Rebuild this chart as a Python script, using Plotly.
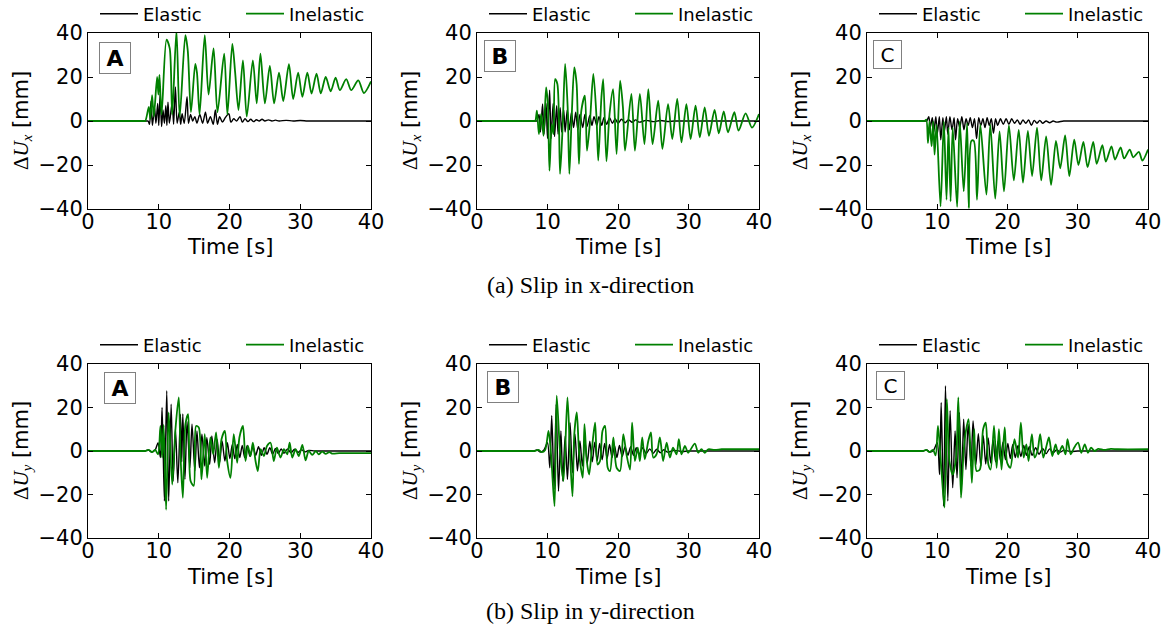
import plotly.graph_objects as go

W, H = 1167, 629

# ---------------- data: (time [s], slip [mm]) ----------------
ax_elastic = [(0, 0), (8.3, 0), (8.5, 0), (8.7, -1.5), (8.9, 9), (9.1, -2), (9.4, 6), (9.6, -1), (9.85, 8), (10.0, -2),
              (10.2, 12.4), (10.4, -2.5), (10.6, 5), (10.8, -1), (11.0, 7), (11.15, -2), (11.3, 8.6), (11.5, -1),
              (11.9, 8.6), (12.1, -1.5), (12.35, 15.5), (12.6, -1), (12.9, 4), (13.1, -1.5), (13.3, 3.3),
              (13.6, -1), (14.0, 11), (14.2, -1), (14.5, 3), (14.8, 0), (15.1, 2), (15.4, -1), (15.8, 3),
              (16.2, -1), (16.6, 4), (16.9, -1), (17.3, 2), (17.7, -1.5), (18.0, 5), (18.3, -1.5), (18.6, 2),
              (19.0, -0.5), (19.4, 1.5), (19.9, 3.3), (20.2, -0.5), (20.6, 1), (21.0, 0), (21.5, 2), (21.8, -0.5),
              (22.2, 1), (22.6, -0.3), (23.0, 0.8), (23.4, -0.3), (23.8, 0.6), (24.2, 0), (24.6, 0.8), (25.0, 0),
              (25.5, 0.5), (26.0, 0), (26.5, 0.4), (27.0, 0), (28.0, 0.3), (29.0, 0), (30.0, 0.2), (31.0, 0),
              (32.0, 0), (40.0, 0)]
ax_inelastic = [(0, 0), (7.9, 0), (8.1, 0), (8.6, 6.4), (8.8, 1), (9.06, 11.7), (9.3, 2), (9.77, 20), (9.95, 12),
                (10.1, 21), (10.4, 3), (11.1, 37), (11.55, 33), (11.9, 3), (12.5, 41), (12.96, 2), (13.76, 39),
                (14.1, 32), (14.55, 4), (15.16, 26), (15.4, 22), (15.77, 3), (16.5, 39), (17.04, 12), (17.75, 33),
                (18.3, 4), (19.25, 30.6), (19.7, 3), (20.4, 35), (20.8, 22), (21.27, 5), (21.9, 27.6), (22.44, 2),
                (23.3, 27.6), (23.85, 8), (24.37, 30.6), (25.0, 8), (25.7, 25), (26.3, 8), (27.0, 22), (27.6, 9),
                (28.4, 25.8), (29.0, 10), (29.7, 22), (30.3, 11), (31.0, 22), (31.6, 12.5), (32.3, 21.5),
                (32.9, 12.6), (33.6, 20), (34.3, 13.5), (35.0, 19.7), (35.6, 14), (36.5, 19), (37.2, 14),
                (38.2, 18.5), (39.0, 12.7), (40.0, 18)]

bx_elastic = [(0, 0), (8.3, 0), (8.5, 0), (8.8, 3), (9.0, -5), (9.3, 7.7), (9.5, -6), (9.8, 8), (10.0, -8), (10.3, 14),
              (10.5, -8), (10.8, 8), (11.0, -7), (11.3, 7), (11.5, -6), (11.8, 6), (12.0, -5), (12.3, 5), (12.5, -5),
              (12.8, 5), (13.1, -4), (13.4, 4), (13.7, -3), (14.0, 4), (14.3, -4), (14.6, 3), (15.0, -3), (15.3, 3),
              (15.6, -2.5), (16.0, 2.5), (16.3, -2), (16.6, 2), (17.0, -2), (17.3, 2), (17.7, -2), (18.0, 1.5),
              (18.4, -1.5), (18.8, 1.5), (19.2, -1), (19.6, 1), (20.0, -1), (20.5, 0.8), (21.0, -0.8), (21.5, 0.6),
              (22.0, -0.6), (22.5, 0.5), (23.0, -0.5), (24.0, 0.3), (25.0, -0.3), (26.0, 0.2), (27.0, -0.2),
              (28.0, 0), (29.0, 0), (40.0, 0)]
bx_inelastic = [(0, 0), (8.06, 0), (8.26, 0), (8.5, 4.7), (8.78, -6), (9.1, 3.2), (9.44, -6.7), (9.8, 15.3),
                (10.05, 7.7), (10.28, -22.6), (10.6, -1.4), (10.85, -6), (11.08, 19), (11.4, 16.8), (11.78, -24),
                (12.16, -1.4), (12.5, 26), (12.86, 6.2), (13.1, -24), (13.43, 1.7), (13.8, 24.4), (14.13, 16.8),
                (14.46, -19.5), (14.8, 4.7), (15.3, 11.5), (15.6, -13.5), (16.0, -1.4), (16.5, 21.4), (16.95, 1.7),
                (17.2, -18), (17.65, 10.8), (17.9, 19), (18.36, -18.3), (18.8, 3.2), (19.3, 14.5), (19.8, -15),
                (20.3, 18.3), (20.7, 6.2), (21.0, -13.5), (21.9, 12.3), (22.4, -13.5), (23.1, 12.3), (23.75, -10.5),
                (24.3, 14.5), (24.9, -10.5), (25.7, 9.2), (26.3, -12.7), (27.1, 7.7), (27.7, -8.2), (28.4, 10),
                (29.0, -9.7), (29.7, 7.7), (30.3, -8.2), (31.0, 7), (31.6, -7.4), (32.3, 6.2), (32.9, -6.7),
                (33.7, 5), (34.3, -5.6), (35.0, 4.4), (35.6, -5.2), (36.5, 4), (37.1, -4.4), (38.1, 3.5),
                (39.0, -3), (40.0, 3.2)]

cx_elastic = [(0, 0), (8.3, 0), (8.5, 0), (8.8, 2), (9.0, -3), (9.3, 1.5), (9.5, -5), (9.8, 2), (10.0, -6), (10.3, 2),
              (10.5, -8.5), (10.8, 1.5), (11.0, -5), (11.3, 2), (11.5, -6), (11.8, 2), (12.1, -4), (12.4, 1.5),
              (12.6, -8.5), (12.9, 1), (13.2, -3), (13.5, 2), (13.8, -4), (14.1, 1), (14.4, -2), (14.7, 1.5),
              (15.0, -3), (15.3, 1), (15.6, -8), (15.9, 1.5), (16.2, -2), (16.5, 1), (16.8, -3), (17.1, 1.5),
              (17.4, -2), (17.7, 1), (18.0, -5.5), (18.3, 1), (18.6, -2), (19.0, 1), (19.4, -1.5), (19.8, 1),
              (20.2, -1.5), (20.6, 1), (21.0, -1), (21.4, 0.5), (21.8, -1.5), (22.2, 0.5), (22.6, -1), (23.0, 0.5),
              (23.4, -2), (23.8, 0.3), (24.2, -1), (24.6, 0.3), (25.0, -1), (25.5, 0), (26.0, -0.8), (26.5, 0),
              (27.0, -0.5), (28.0, 0), (29.0, 0), (40.0, 0)]
cx_inelastic = [(0, 0), (8.0, 0), (8.2, 0), (8.44, 0.6), (8.68, -10), (8.9, -0.2), (9.2, -11.5), (9.43, -0.2),
                (9.62, -15.3), (9.9, -1.7), (10.47, -38.8), (10.94, -0.2), (11.32, -35.8), (11.6, -3), (11.9, -36.5),
                (12.2, -3), (12.83, -39), (13.2, -0.2), (13.77, -32), (14.25, -1), (14.48, -39.5), (14.86, -9),
                (15.2, -9), (15.66, -35.8), (16.13, -1.7), (17.0, -33.5), (17.55, -1.7), (18.25, -35.3),
                (18.87, -4.7), (19.5, -32), (20.2, -2), (20.9, -27), (21.6, -4), (22.2, -28), (22.9, -4.5),
                (23.5, -25), (24.2, -3), (24.8, -27), (25.5, -7), (26.2, -29), (26.9, -9), (27.5, -21.5),
                (28.2, -6.5), (28.8, -25), (29.5, -8.5), (30.1, -20), (30.8, -9.5), (31.4, -21), (32.2, -9.5),
                (32.7, -19.5), (33.5, -11), (34.0, -18.5), (34.8, -11.5), (35.3, -17.5), (36.1, -12), (36.6, -17),
                (37.4, -13), (37.9, -16.5), (38.7, -14), (39.2, -18), (40.0, -13)]

ay_elastic = [(0, 0), (7.8, 0), (8.0, 0), (8.5, 0.5), (9.0, -0.5), (9.5, 0.5), (9.9, 3.8), (10.24, -3), (10.47, 20),
              (10.8, -23), (11.13, 27.7), (11.4, -23), (11.75, 21.5), (12.03, -13.8), (12.36, 10), (12.7, -14.6),
              (13.07, 16.9), (13.25, -5), (13.4, 17), (13.7, -13), (14.0, 13.5), (14.4, -7.7), (14.7, 12.3),
              (15.1, -9.2), (15.4, 9.2), (15.75, -7.7), (16.1, 7.7), (16.5, -6.9), (16.8, 6.2), (17.2, -6.2),
              (17.5, 6.9), (17.9, -5.4), (18.25, 5.4), (18.6, -5.4), (18.95, 4.6), (19.35, -4.6), (19.7, 3.8),
              (20.05, -3.5), (20.4, 3), (20.75, -3.5), (21.1, 3), (21.45, -3), (21.8, 2.5), (22.15, -3),
              (22.5, 2.5), (22.9, -2.5), (23.3, 2), (23.7, -2), (24.1, 2), (24.5, -2), (24.9, 1.5), (25.3, -1.5),
              (25.7, 1.5), (26.1, -1.5), (26.5, 1.2), (26.9, -1.2), (27.3, 1), (27.7, -1), (28.2, 1), (28.7, -0.8),
              (29.2, 0.8), (29.7, -0.6), (30.2, 0.5), (30.7, -0.4), (31.2, 0.3), (32.0, 0), (33.0, 0), (40.0, 0)]
ay_inelastic = [(0, 0), (7.9, 0), (8.1, 0), (8.6, 0.5), (9.05, -0.5), (9.5, 0.5), (9.9, -1.5), (10.24, 11.5),
                (10.47, -3), (10.7, 12), (11.04, -27), (11.4, 17.7), (11.9, -15.4), (12.36, 10), (12.83, 24.6),
                (13.07, -1.5), (13.4, -21.5), (13.77, 12.3), (14.15, 17), (14.5, -13.8), (14.95, -16), (15.28, 11.5),
                (15.66, 10.8), (16.04, -13), (16.5, 7.7), (16.84, -12.3), (17.3, 6.2), (17.7, -1.5), (18.1, 8.5),
                (18.5, -7.7), (18.87, 5.4), (19.34, 9.2), (19.67, -4.6), (20.14, -12.3), (20.6, 7.7), (21.08, -5.4),
                (21.4, 6.2), (21.9, 11.5), (22.26, -4.6), (22.6, 2.3), (22.97, -2.3), (23.3, 3.8), (23.68, -4.6),
                (24.0, -9.2), (24.4, 0.8), (24.86, -2.3), (25.3, 2.3), (25.8, 3.8), (26.26, -4.6), (26.7, 1.5),
                (27.2, -3), (27.7, 0.8), (28.16, -1.5), (28.5, 3.8), (28.87, -3), (29.34, 0.8), (29.8, -2.3),
                (30.3, 2.8), (30.75, -4.3), (31.2, 0), (31.7, -1.8), (32.2, 0), (32.6, -1.5), (33.1, -0.3),
                (33.6, -1.3), (34.1, -0.5), (34.5, -1.2), (35.5, -1), (36.5, -1), (40.0, -1)]

by_elastic = [(0, 0), (7.8, 0), (8.0, 0), (8.5, 0.5), (9.0, -0.5), (9.5, 0.5), (10.0, 3.8), (10.33, -7.7),
              (10.6, 16.2), (10.94, -17.7), (11.23, 21.5), (11.56, -18.5), (11.9, 9.2), (12.17, -13.8), (12.5, 6.9),
              (12.83, -13), (13.2, 13), (13.54, -10), (13.9, 7.7), (14.25, -9.2), (14.6, 4.6), (14.95, -6.9),
              (15.3, 5), (15.65, -5.5), (16.0, 4.5), (16.35, -5), (16.7, 4), (17.05, -4.5), (17.4, 3.5),
              (17.75, -4), (18.1, 3.5), (18.45, -3.5), (18.8, 3), (19.15, -3), (19.5, 2.5), (19.85, -3),
              (20.2, 2.5), (20.6, -2.5), (21.0, 2), (21.4, -2), (21.8, 2), (22.2, -2), (22.6, 1.5), (23.0, -1.5),
              (23.5, 1.5), (24.0, -1.2), (24.5, 1), (25.0, -1), (25.5, 0.8), (26.0, -0.8), (26.5, 0.6),
              (27.0, -0.5), (28.0, 0.3), (29.0, -0.2), (30.0, 0), (31.0, 0), (40.0, 0)]
by_inelastic = [(0, 0), (8.05, 0), (8.25, 0), (8.7, 0.5), (9.2, -0.5), (9.67, 0.5), (10.14, 9.2), (10.5, -1.5),
                (11.0, -25.4), (11.3, 25.4), (11.8, -1.5), (12.26, -13.8), (12.83, 24.6), (13.2, -1.5),
                (13.54, -20.8), (13.8, 7.7), (14.15, 17.7), (14.5, -1.5), (15.0, -12.3), (15.24, 12.3),
                (15.57, -4.6), (15.9, -10.8), (16.27, 0), (16.75, 13), (17.1, -6.2), (17.45, -4.6), (17.8, 9.2),
                (18.16, 11.5), (18.54, -7.7), (18.87, -9.2), (19.34, 6.2), (19.8, -7.7), (20.28, -9.2),
                (20.75, 7.7), (21.2, -1.5), (21.7, -8.5), (22.0, 13), (22.4, -4.6), (22.8, 1.5), (23.1, -4.6),
                (23.44, 6.2), (23.8, -3.8), (24.3, 4.6), (24.67, 8.5), (25.0, -3), (25.47, -1.5), (25.94, 6.2),
                (26.4, -4.6), (26.9, 3.8), (27.36, -3), (27.8, 1.5), (28.3, -1.5), (28.63, 5.4), (29.0, -1.5),
                (29.5, 2.3), (29.95, -0.8), (30.9, 3.4), (31.37, -0.8), (31.84, 0.8), (32.3, -0.8), (32.8, 0.8),
                (33.7, 0.5), (34.7, 0.8), (35.7, 0.8), (40.0, 0.8)]

cy_elastic = [(0, 0), (7.8, 0), (8.0, 0), (8.5, 0.5), (9.0, -0.5), (9.5, 0.5), (10.0, 3.8), (10.33, -10.8),
              (10.56, 22.3), (10.9, -25.4), (11.17, 30), (11.5, -23), (11.83, 18.5), (12.2, -16.9), (12.54, 9.2),
              (12.82, -12.3), (13.15, 17.7), (13.47, -15.4), (13.76, 14.6), (14.08, -8.5), (14.4, 12.3),
              (14.8, -6.9), (15.1, 13.8), (15.5, -6.2), (15.85, 8), (16.2, -7), (16.55, 7), (16.9, -6), (17.25, 6),
              (17.6, -5.5), (17.95, 5), (18.3, -5), (18.65, 4.5), (19.0, -4.5), (19.35, 4), (19.7, -4),
              (20.05, 3.5), (20.4, -3.5), (20.75, 3), (21.1, -3), (21.5, 2.5), (21.9, -2.5), (22.3, 2.5),
              (22.7, -2), (23.1, 2), (23.5, -2), (24.0, 1.5), (24.5, -1.5), (25.0, 1.2), (25.5, -1.2), (26.0, 1),
              (26.5, -0.8), (27.0, 0.6), (27.5, -0.5), (28.0, 0.3), (29.0, -0.2), (30.0, 0), (31.0, 0), (40.0, 0)]
cy_inelastic = [(0, 0), (7.8, 0), (8.0, 0), (8.45, 0.5), (8.9, -0.5), (9.4, 0.5), (9.77, -2), (10.1, 11.5),
                (10.47, -3), (11.03, -26), (11.36, 23.8), (11.74, -4.6), (12.2, -10.8), (12.68, -3), (13.0, 24.6),
                (13.38, -21.5), (13.76, 0), (14.08, 9.2), (14.46, 14.6), (14.93, -14.6), (15.26, 10),
                (15.6, -9.2), (16.06, -8.5), (16.53, 10), (16.9, 13), (17.28, -6.2), (17.6, -8.5), (18.08, 11.5),
                (18.45, -7.7), (18.78, 10), (19.15, -8.5), (19.6, 10.8), (19.95, -5.4), (20.4, -7.7), (21.0, 5.4),
                (21.5, -3), (21.9, 13), (22.3, -3), (22.68, 3), (23.0, -4.6), (23.47, 7.7), (23.85, -3),
                (24.27, 0), (24.65, 7.7), (25.1, -3), (25.6, 3), (25.9, 6.2), (26.38, -2.3), (26.85, 3),
                (27.23, -1.5), (27.8, 2.3), (28.26, -1.5), (28.54, 5.4), (29.0, -1.5), (29.48, 1.5), (30.05, 3.8),
                (30.5, -0.8), (31.0, 3), (31.45, -0.8), (31.9, 1.5), (32.4, 0), (32.9, 1), (33.8, 0.5),
                (34.7, 1), (35.7, 0.8), (40.0, 0.8)]

panel_letters = ["A", "B", "C", "A", "B", "C"]
series = [(ax_elastic, ax_inelastic), (bx_elastic, bx_inelastic), (cx_elastic, cx_inelastic),
          (ay_elastic, ay_inelastic), (by_elastic, by_inelastic), (cy_elastic, cy_inelastic)]
series_names = ["Elastic", "Inelastic"]
x_ticks = [0, 10, 20, 30, 40]
y_ticks = [-40, -20, 0, 20, 40]
captions = ["(a) Slip in x-direction", "(b) Slip in y-direction"]

# ---------------- layout geometry (page pixels) ----------------
col_px = [(88, 371), (477, 759), (867, 1148)]
row_px = [(33, 209), (364, 538)]
xtitle_px = [247, 577]
caption_px = [285, 611]
label_box_px = [(114.5, 57.5), (500, 56), (887.5, 54.5), (120, 388), (502.5, 386.5), (890.5, 385)]

GREEN = "#008000"
TICKFONT = dict(family="DejaVu Sans", size=21, color="black")


def px_x(p):
    return p / W


def px_y(p):
    return 1 - p / H


fig = go.Figure()
annotations = []
layout = dict(width=W, height=H, margin=dict(l=0, r=0, t=0, b=0, autoexpand=False),
              paper_bgcolor="white", plot_bgcolor="white", showlegend=True)

for i in range(6):
    r, c = divmod(i, 3)
    n = i + 1
    xs = "" if n == 1 else str(n)
    leg = "legend" if n == 1 else f"legend{n}"
    el, inel = series[i]
    for data, name, color, lw in [(el, series_names[0], "black", 1.4),
                                  (inel, series_names[1], GREEN, 1.8)]:
        fig.add_trace(go.Scatter(
            x=[p[0] for p in data], y=[p[1] for p in data], mode="lines", name=name,
            line=dict(color=color, width=lw, shape="spline", smoothing=0.8), legend=leg,
            xaxis="x" + xs, yaxis="y" + xs, hoverinfo="skip"))
    x0, x1 = col_px[c]
    y0, y1 = row_px[r]
    axcommon = dict(showline=True, linecolor="black", linewidth=1, mirror="ticks", ticks="inside",
                    ticklen=5, tickcolor="black", showgrid=False, zeroline=False, tickfont=TICKFONT,
                    automargin=False, ticklabeloverflow="allow")
    layout["xaxis" + xs] = dict(domain=[px_x(x0), px_x(x1)], anchor="y" + xs, range=[0, 40],
                                tickvals=x_ticks, ticklabelstandoff=-6, **axcommon)
    layout["yaxis" + xs] = dict(domain=[px_y(y1), px_y(y0)], anchor="x" + xs, range=[-40, 40],
                                tickvals=y_ticks, ticklabelstandoff=0, **axcommon)
    layout[leg] = dict(orientation="h", x=px_x(x0 + 7), xanchor="left", y=px_y(y0 - 19), yanchor="middle",
                       font=dict(family="DejaVu Sans", size=18, color="black"), bgcolor="rgba(0,0,0,0)",
                       itemwidth=38, entrywidth=93, entrywidthmode="pixels", tracegroupgap=0)
    # axis titles
    comp = "x" if r == 0 else "y"
    annotations.append(dict(
        text=f'<span style="font-family:Liberation Serif">Δ<i>U</i><sub><i>{comp}</i></sub></span> [mm]',
        x=px_x(x0 - 66), y=px_y((y0 + y1) / 2), xref="paper", yref="paper", textangle=-90,
        showarrow=False, xanchor="center", yanchor="middle",
        font=dict(family="DejaVu Sans", size=21, color="black")))
    annotations.append(dict(
        text="Time [s]", x=px_x((x0 + x1) / 2), y=px_y(xtitle_px[r]), xref="paper", yref="paper",
        showarrow=False, xanchor="center", yanchor="middle",
        font=dict(family="DejaVu Sans", size=21, color="black")))
    # panel letter boxes
    bx, by = label_box_px[i]
    letter = panel_letters[i]
    bold = letter != "C"
    annotations.append(dict(
        text=f"<b>{letter}</b>" if bold else letter, x=px_x(bx), y=px_y(by), xref="paper", yref="paper",
        showarrow=False, xanchor="center", yanchor="middle",
        width=26 if bold else 23, height=26 if bold else 23, borderpad=2,
        bordercolor="#808080", borderwidth=1, bgcolor="white",
        font=dict(family="DejaVu Sans", size=22 if bold else 20, color="black")))

for k, cap in enumerate(captions):
    annotations.append(dict(
        text=cap, x=px_x(590), y=px_y(caption_px[k]), xref="paper", yref="paper",
        showarrow=False, xanchor="center", yanchor="middle",
        font=dict(family="Liberation Serif", size=24, color="black")))

layout["annotations"] = annotations
fig.update_layout(**layout)
# remove the browser's default 8px body margin so the figure fills the 1167x629 window exactly
fig.write_html("out.html", config={"displayModeBar": False},
               post_script="document.body.style.margin='0px';")
